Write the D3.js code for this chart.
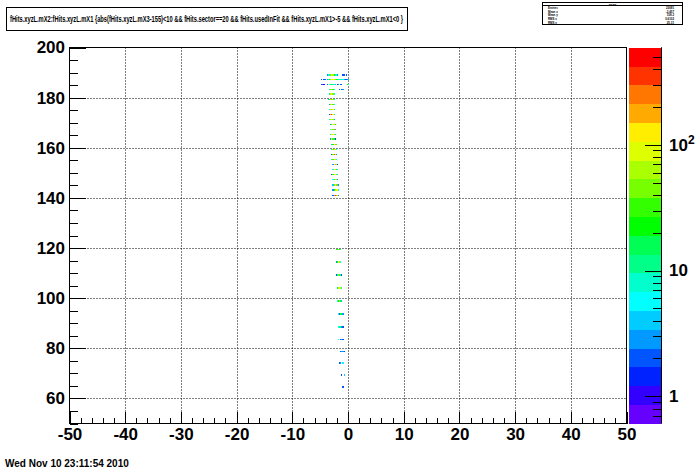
<!DOCTYPE html>
<html><head><meta charset="utf-8">
<script src="https://cdn.jsdelivr.net/npm/d3@7"></script>
<style>body{margin:0;background:#fff}svg{display:block}text{font-family:"Liberation Sans",Arial,sans-serif;font-weight:bold}</style>
</head><body><svg id="c" width="696" height="472"></svg>
<script>
const titleText = "fHits.xyzL.mX2:fHits.xyzL.mX1 {abs(fHits.xyzL.mX3-155)<10 && fHits.sector==20 && fHits.usedInFit && fHits.xyzL.mX1>-5 && fHits.xyzL.mX1<0 }";
const dateText = "Wed Nov 10 23:11:54 2010";
const statsName = "htemp";
const statsLabels = ["Entries", "Mean x", "Mean y", "RMS x", "RMS y"];
const statsValues = ["23691", "-2.457", "158.2", "0.6102", "25.31"];
const xTicks = [-50, -40, -30, -20, -10, 0, 10, 20, 30, 40, 50];
const yTicks = [60, 80, 100, 120, 140, 160, 180, 200];
const zLabels = [1, 10, 100];
const palette = ["#6600ff","#3300ff","#0022ff","#0055ff","#0099ff","#00ccff","#00ffff","#00ffcc","#00ff88","#00ff55",
                 "#00ff00","#33ff00","#77ff00","#aaff00","#ddff00","#ffee00","#ffaa00","#ff7700","#ff3300","#ff0000"];
const binW = 0.2, binH = 0.7;
const rowY = [189.1,187.2,185.2,183.2,181.3,179.3,177.3,175.3,173.3,171.3,169.3,167.3,165.3,163.4,161.3,159.3,157.3,155.3,153.3,151.3,149.3,147.3,145.1,143.2,141.0,
              119.4,114.4,109.2,104.1,98.9,93.8,88.6,83.5,78.7,74.0,69.2,64.5];
const rowX0 = [-3.8,-4.8,-4.8,-3.4,-3.4,-3.6,-3.4,-3.4,-3.4,-3.4,-3.2,-3.2,-3.2,-3.2,-3.0,-3.0,-3.0,-3.0,-2.8,-2.8,-3.0,-2.8,-2.8,-2.8,-2.8,
               -2.2,-2.2,-2.2,-2.0,-2.0,-1.8,-1.8,-1.8,-1.4,-1.6,-1.2,-1.0];
const rowCounts = [
 [3,6,12,40,90,60,25,8,5,3,0,0,0,0,2,2,0,2],
 [2,0,2,2,0,3,6,20,40,80,120,60,40,25,15,10,6,10,8,5,3,2,2,3,15],
 [2,2,1,0,0,2,0,5,8,20,12,6,4,0,2,3,0,2,2,0,0,0,0,20,8],
 [6,30,70,25,5,0,0,0,0,2,0,2,3],
 [10,60,130,40,6],
 [4,25,90,200,50,8],
 [3,40,110,30,5],
 [8,70,160,90,12],
 [2,150,300,80,10],
 [5,50,100,45,3],
 [3,35,90,120,20],
 [6,80,40,250,4],
 [12,60,140,50,8],
 [3,100,30,20,2],
 [4,20,80,180,30],
 [7,45,130,60,5],
 [2,40,350,100,3],
 [5,30,120,70,9],
 [3,90,150,40,2],
 [8,110,60,25,5],
 [2,30,90,140,50,4],
 [6,25,80,40,3],
 [4,45,100,200,12,3],
 [3,20,60,130,80,5],
 [2,250,400,150,60,3],
 [15,35,50,30,8],
 [3,25,90,60,6],
 [2,12,40,30,10,2],
 [15,60,130,70,8],
 [6,25,40,20,4],
 [5,2,20,15,3],
 [6,10,15,3,2],
 [6,0,2,3,2],
 [2,3,3,2],
 [2,3,0,5],
 [2,0,4],
 [2]
];
const zMin = 0.608, zMax = 593;

const svg = d3.select("#c");
svg.append("rect").attr("width",696).attr("height",472).attr("fill","#fff");
const L = 69.5, R = 626.5, T = 47.5, B = 423.5;
const x = d3.scaleLinear().domain([-50,50]).range([L,R]);
const y = d3.scaleLinear().domain([50,200]).range([B,T]);
const z = d3.scaleLog().domain([zMin,zMax]).range([0,20]);
const colorOf = c => palette[Math.max(0,Math.min(19,Math.floor(z(c))))];

svg.append("rect").attr("x",L).attr("y",T).attr("width",R-L).attr("height",B-T).attr("fill","#fff");

// grid
const g = svg.append("g").attr("stroke","#000").attr("stroke-width",1).attr("stroke-dasharray","1,2");
xTicks.filter(v=>v>-50&&v<50).forEach(v=>g.append("line").attr("x1",Math.round(x(v))+0.5).attr("x2",Math.round(x(v))+0.5).attr("y1",T).attr("y2",B));
yTicks.filter(v=>v<200).forEach(v=>g.append("line").attr("y1",Math.round(y(v))+0.5).attr("y2",Math.round(y(v))+0.5).attr("x1",L).attr("x2",R));

// cells
const cells = [];
rowCounts.forEach((arr,i)=>arr.forEach((c,j)=>{ if(c>0) cells.push({x:rowX0[i]+j*binW, y:rowY[i], c}); }));
svg.append("g").attr("shape-rendering","crispEdges").selectAll("rect").data(cells).join("rect")
  .attr("x",d=>x(d.x)).attr("width",d=>x(d.x+binW)-x(d.x))
  .attr("y",d=>y(d.y+binH/2)).attr("height",d=>y(d.y-binH/2)-y(d.y+binH/2))
  .attr("fill",d=>colorOf(d.c));

// axes
const xMinor = d3.range(-50,50.01,2);
const yMinor = d3.range(50,200.01,5);
const ax = svg.append("g").attr("transform",`translate(0,${B})`)
  .call(d3.axisBottom(x).tickValues(xMinor).tickSize(-5.6).tickFormat(""));
const axMaj = svg.append("g").attr("transform",`translate(0,${B})`)
  .call(d3.axisBottom(x).tickValues(xTicks).tickSize(-11.3).tickPadding(4).tickFormat(d3.format("d")));
const ay = svg.append("g").attr("transform",`translate(${L},0)`)
  .call(d3.axisLeft(y).tickValues(yMinor).tickSize(-8.4).tickFormat(""));
const ayMaj = svg.append("g").attr("transform",`translate(${L},0)`)
  .call(d3.axisLeft(y).tickValues(yTicks).tickSize(-16.7).tickPadding(4.5).tickFormat(d3.format("d")));
[ax,axMaj,ay,ayMaj].forEach(a=>{a.select(".domain").remove(); a.selectAll("line").attr("stroke","#000").attr("shape-rendering","crispEdges");
  a.selectAll("text").attr("font-size",17).attr("font-family","'Liberation Sans',Arial,sans-serif").attr("font-weight","bold").attr("fill","#000");});
axMaj.selectAll("text").text(d=>d<0?"-"+Math.abs(d):d);
svg.append("rect").attr("x",L).attr("y",T).attr("width",R-L).attr("height",B-T).attr("fill","none").attr("stroke","#000").attr("shape-rendering","crispEdges");

// palette
const PL = 629, PR = 661;
const zs = d3.scaleLog().domain([zMin,zMax]).range([B,T]);
const bandH = (B-T)/20;
svg.append("g").attr("shape-rendering","crispEdges").selectAll("rect").data(palette).join("rect")
  .attr("x",PL).attr("width",PR-PL).attr("y",(d,i)=>B-(i+1)*bandH).attr("height",bandH+0.3).attr("fill",d=>d);
const za = svg.append("g").attr("transform",`translate(${PR+0.5},0)`);
const zMinor = [0.7,0.8,0.9,2,3,4,5,6,7,8,9,20,30,40,50,60,70,80,90,200,300,400,500];
za.call(d3.axisRight(zs).tickValues(zMinor).tickSize(-8.7).tickFormat(""));
const zaM = svg.append("g").attr("transform",`translate(${PR+0.5},0)`)
  .call(d3.axisRight(zs).tickValues(zLabels).tickSize(-16.7).tickPadding(8).tickFormat(""));
[za,zaM].forEach(a=>{a.select(".domain").attr("d",`M0,${T}V${B}`).attr("stroke","#000"); a.selectAll("line").attr("stroke","#000").attr("shape-rendering","crispEdges");});
zLabels.forEach(v=>{
  const t = svg.append("text").attr("x",669).attr("y",zs(v)).attr("dy","0.35em").attr("font-size",17).attr("fill","#000");
  if(v===100){ t.append("tspan").text("10"); t.append("tspan").attr("font-size",12).attr("dy","-0.55em").text("2"); }
  else t.text(String(v));
});

// title
svg.append("rect").attr("x",6.5).attr("y",7.5).attr("width",401).attr("height",23).attr("fill","#fff").attr("stroke","#000");
svg.append("text").attr("x",10).attr("y",21.5).attr("font-size",8.5).attr("textLength",393).attr("lengthAdjust","spacingAndGlyphs").text(titleText);

// stats box
svg.append("rect").attr("x",542.5).attr("y",2.5).attr("width",140).attr("height",22).attr("fill","#fff").attr("stroke","#000");
svg.append("line").attr("x1",542.5).attr("x2",682.5).attr("y1",5.5).attr("y2",5.5).attr("stroke","#000");
const sg = svg.append("g").attr("transform","translate(542.5,2.5) scale(0.5)");
sg.append("text").attr("x",140).attr("y",5).attr("font-size",5).attr("text-anchor","middle").attr("font-weight","normal").text(statsName);
const labT = sg.append("text").attr("font-size",5.8).attr("font-weight","normal");
statsLabels.forEach((s,i)=>labT.append("tspan").attr("x",11).attr("y",12.6+i*7.6).text(s));
const valT = sg.append("text").attr("font-size",5.8).attr("font-weight","normal").attr("text-anchor","end");
statsValues.forEach((s,i)=>valT.append("tspan").attr("x",263).attr("y",12.6+i*7.6).text(s));

// date
svg.append("text").attr("x",5).attr("y",467).attr("font-size",10).text(dateText);
</script></body></html>
